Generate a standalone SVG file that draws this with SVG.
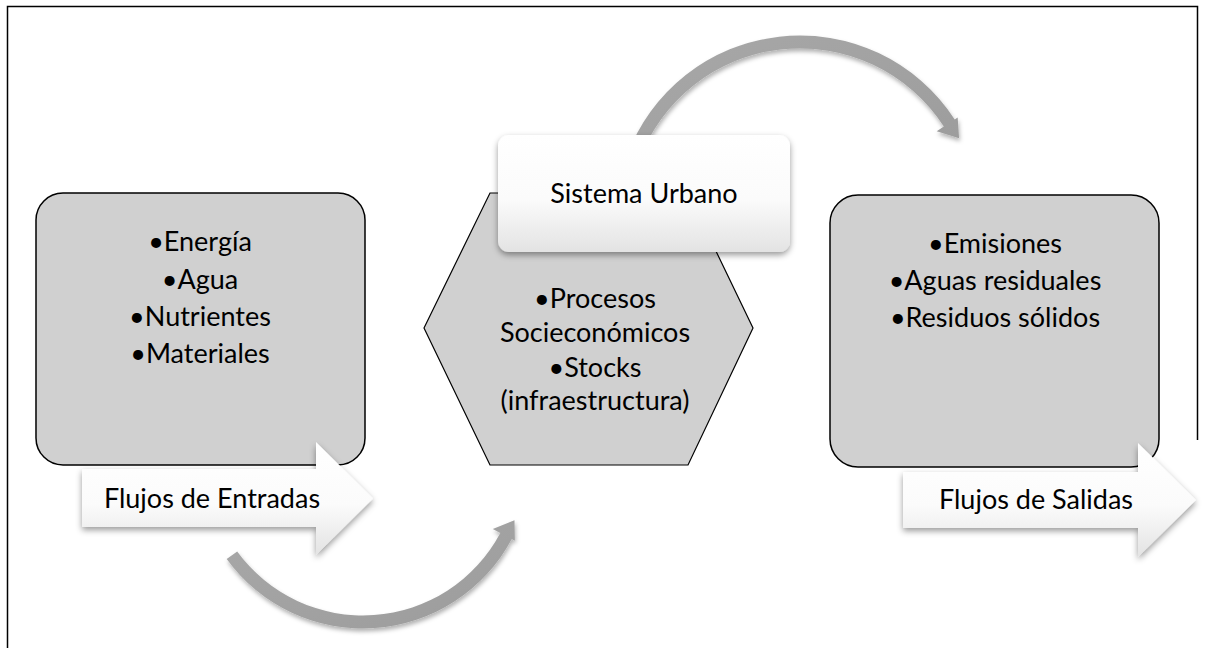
<svg xmlns="http://www.w3.org/2000/svg" width="1205" height="648" viewBox="0 0 1205 648">
<defs>
<linearGradient id="wg" x1="0" y1="0" x2="0" y2="1">
<stop offset="0" stop-color="#ffffff"/>
<stop offset="0.55" stop-color="#fbfbfb"/>
<stop offset="1" stop-color="#e3e3e3"/>
</linearGradient>
<linearGradient id="ag" x1="0" y1="0" x2="1" y2="1">
<stop offset="0" stop-color="#a8a8a8"/>
<stop offset="1" stop-color="#9c9c9c"/>
</linearGradient>
<filter id="sh" x="-10%" y="-10%" width="125%" height="130%">
<feDropShadow dx="0" dy="3" stdDeviation="3" flood-color="#000" flood-opacity="0.4"/>
</filter>
<filter id="sha" x="-10%" y="-10%" width="125%" height="130%">
<feDropShadow dx="1" dy="3" stdDeviation="2" flood-color="#000" flood-opacity="0.3"/>
</filter>
</defs>
<style>
.gbox{fill:#d0d0d0;stroke:#000;stroke-width:1.5}
.hex{fill:#d0d0d0;stroke:#000;stroke-width:1.2}
.wbox{fill:url(#wg);filter:url(#sh)}
.arc{fill:url(#ag);filter:url(#sha)}
.t{font-family:Lato,"Liberation Sans",Arial,sans-serif;font-size:27px;fill:#000;text-anchor:middle}
.frame{stroke:#000;stroke-width:1.5;fill:none}
</style>
<g id="frame">
<path class="frame" d="M7.5,648 V6.5 H1197.5 V440"/>
</g>
<g id="connectors">
<path class="arc" d="M626.6,156.9 A184.5,184.5 0 0 1 954.73,119.51 L957.67,117.61 L959.08,138.15 L936.7,131.22 L943.83,126.59 A171.5,171.5 0 0 0 638.8,161.3 Z"/>
<path class="arc" d="M226.68,559.04 A168.5,168.5 0 0 0 511.78,539.11 L514.87,540.75 L514.49,520.16 L492.79,529.01 L500.3,533 A155.5,155.5 0 0 1 237.2,551.4 Z"/>
</g>
<g id="entradas-box">
<rect class="gbox" x="36" y="193" width="329" height="272" rx="27"/>
<text class="t" x="200" y="251">•Energía</text>
<text class="t" x="200" y="289">•Agua</text>
<text class="t" x="200" y="326">•Nutrientes</text>
<text class="t" x="200" y="363">•Materiales</text>
</g>
<g id="salidas-box">
<rect class="gbox" x="830" y="195" width="329" height="272" rx="28"/>
<text class="t" x="995" y="253">•Emisiones</text>
<text class="t" x="995" y="290">•Aguas residuales</text>
<text class="t" x="995" y="327">•Residuos sólidos</text>
</g>
<g id="hexagono">
<polygon class="hex" points="424,328 490,193 688,193 753,328 688,465 490,465"/>
<text class="t" x="595" y="308">•Procesos</text>
<text class="t" x="595" y="342">Socieconómicos</text>
<text class="t" x="595" y="377">•Stocks</text>
<text class="t" x="595" y="410">(infraestructura)</text>
</g>
<g id="sistema-urbano">
<rect class="wbox" x="498" y="135" width="292" height="117" rx="11"/>
<text class="t" x="644" y="203">Sistema Urbano</text>
</g>
<g id="flujos-entradas">
<path class="wbox" d="M82,469 H316 V442 L373,498.5 L316,555 V527 H82 Z"/>
<text class="t" x="212" y="508">Flujos de Entradas</text>
</g>
<g id="flujos-salidas">
<path class="wbox" d="M903,472 H1138 V443 L1196,500 L1138,557 V528 H903 Z"/>
<text class="t" x="1036" y="509">Flujos de Salidas</text>
</g>
</svg>
